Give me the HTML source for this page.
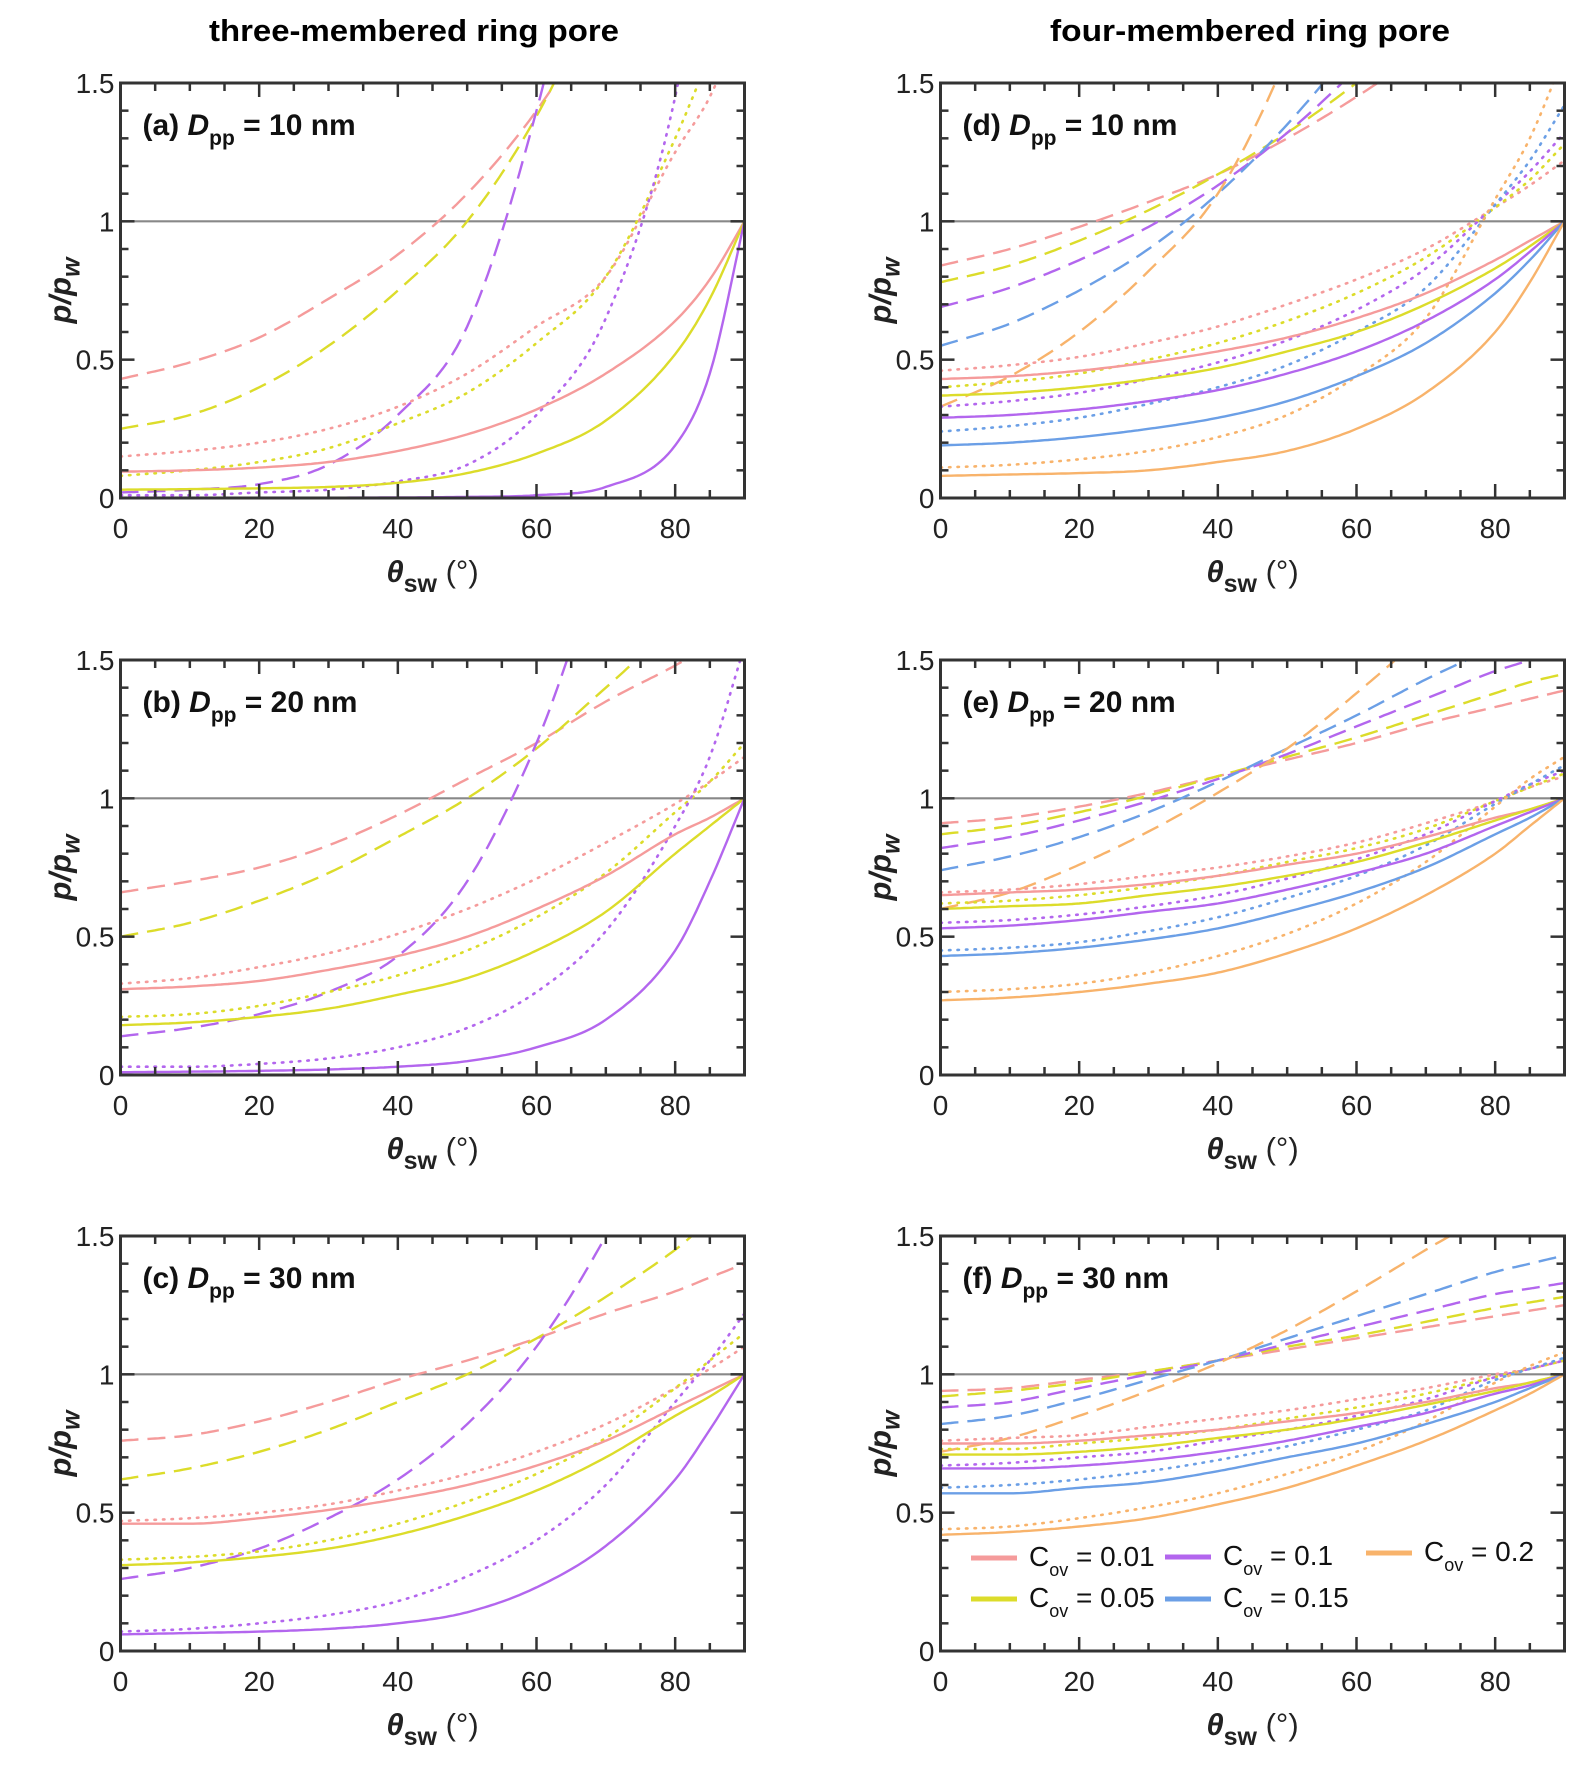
<!DOCTYPE html>
<html><head><meta charset="utf-8">
<style>
html,body{margin:0;padding:0;background:#fff;}
svg{display:block;font-family:"Liberation Sans",Arial,sans-serif;}
</style></head>
<body>
<svg id="fig" width="1587" height="1767" viewBox="0 0 1587 1767" xmlns="http://www.w3.org/2000/svg">
<text x="414" y="41" text-anchor="middle" font-size="31" font-weight="bold" textLength="410" lengthAdjust="spacingAndGlyphs">three-membered ring pore</text>
<text x="1250" y="41" text-anchor="middle" font-size="31" font-weight="bold" textLength="400" lengthAdjust="spacingAndGlyphs">four-membered ring pore</text>
<g id="panels"></g>
</svg>
<script>
const thetas = [0,10,20,30,40,50,60,70,80,85,90];
const xTicks = [0,20,40,60,80];
const yTicks = [0,0.5,1,1.5];
const yTickLabels = ["0","0.5","1","1.5"];
const panelLetters = ["a","b","c","d","e","f"];
const panelDpp = ["10","20","30","10","20","30"];

// Panel (a)
const a_solid = [[0.095,0.10,0.11,0.13,0.17,0.23,0.32,0.45,0.64,0.79,1],[0.03,0.032,0.035,0.04,0.055,0.09,0.16,0.28,0.52,0.72,1],[0,0,0,0.001,0.002,0.004,0.01,0.04,0.19,0.45,1]];
const a_dash = [[0.43,0.49,0.58,0.72,0.88,1.1,1.4,1.8,2.3,2.6,3],[0.25,0.3,0.4,0.55,0.75,1.0,1.38,1.9,2.5,2.8,3],[0.02,0.03,0.05,0.12,0.3,0.62,1.4,2.5,4,4,4]];
const a_dot = [[0.15,0.17,0.2,0.25,0.33,0.45,0.62,0.8,1.25,1.45,1.75],[0.08,0.1,0.13,0.18,0.27,0.38,0.56,0.8,1.3,1.6,1.9],[0.01,0.01,0.02,0.03,0.06,0.12,0.3,0.65,1.45,2.2,3]];
// Panel (b)
const b_solid = [[0.31,0.32,0.34,0.38,0.43,0.5,0.6,0.72,0.87,0.93,1],[0.18,0.19,0.21,0.24,0.29,0.35,0.45,0.59,0.8,0.9,1],[0.01,0.012,0.015,0.02,0.03,0.05,0.1,0.2,0.45,0.7,1]];
const b_dash = [[0.66,0.7,0.75,0.83,0.94,1.07,1.2,1.35,1.48,1.55,1.6],[0.5,0.55,0.63,0.73,0.86,1.0,1.18,1.4,1.62,1.7,1.8],[0.14,0.17,0.22,0.3,0.43,0.7,1.2,1.9,2.5,2.8,3]];
const b_dot = [[0.33,0.35,0.39,0.44,0.51,0.6,0.71,0.84,0.98,1.06,1.15],[0.21,0.22,0.25,0.3,0.36,0.45,0.57,0.73,0.95,1.06,1.2],[0.03,0.03,0.04,0.06,0.1,0.17,0.3,0.52,0.9,1.15,1.55]];
// Panel (c)
const c_solid = [[0.46,0.46,0.48,0.51,0.55,0.6,0.67,0.76,0.88,0.94,1],[0.31,0.32,0.34,0.37,0.42,0.49,0.58,0.7,0.85,0.92,1],[0.06,0.065,0.07,0.08,0.1,0.14,0.23,0.38,0.62,0.8,1]];
const c_dash = [[0.76,0.78,0.83,0.9,0.98,1.05,1.13,1.22,1.3,1.35,1.4],[0.62,0.66,0.72,0.8,0.9,1.0,1.13,1.28,1.45,1.55,1.6],[0.26,0.3,0.37,0.48,0.62,0.82,1.1,1.5,2,2.3,2.6]];
const c_dot = [[0.47,0.48,0.5,0.53,0.58,0.64,0.72,0.82,0.95,1.02,1.1],[0.33,0.34,0.36,0.4,0.46,0.54,0.64,0.77,0.95,1.05,1.15],[0.07,0.08,0.1,0.13,0.18,0.27,0.4,0.6,0.9,1.05,1.22]];
// Panel (d)
const d_solid = [[0.43,0.44,0.46,0.49,0.53,0.58,0.65,0.74,0.86,0.93,1],[0.37,0.38,0.4,0.43,0.47,0.53,0.6,0.7,0.83,0.91,1],[0.29,0.3,0.32,0.35,0.39,0.45,0.53,0.64,0.79,0.89,1],[0.19,0.2,0.22,0.25,0.29,0.35,0.44,0.56,0.74,0.86,1],[0.08,0.085,0.09,0.1,0.13,0.17,0.25,0.38,0.6,0.78,1]];
const d_dash = [[0.84,0.9,0.98,1.07,1.17,1.3,1.45,1.62,1.8,1.9,2],[0.78,0.84,0.93,1.04,1.17,1.32,1.5,1.7,1.9,2,2.1],[0.69,0.76,0.86,0.98,1.13,1.32,1.55,1.8,2,2.1,2.2],[0.55,0.63,0.75,0.9,1.1,1.35,1.65,2,2.3,2.4,2.5],[0.33,0.44,0.6,0.82,1.1,1.6,2.3,3,3.5,3.7,4]];
const d_dot = [[0.46,0.48,0.51,0.56,0.62,0.7,0.79,0.9,1.05,1.13,1.22],[0.4,0.42,0.45,0.5,0.56,0.64,0.74,0.87,1.05,1.15,1.28],[0.33,0.35,0.38,0.43,0.49,0.57,0.68,0.83,1.06,1.18,1.32],[0.24,0.26,0.29,0.34,0.4,0.48,0.6,0.76,1.06,1.22,1.42],[0.11,0.12,0.14,0.17,0.22,0.3,0.44,0.65,1.08,1.3,1.6]];
// Panel (e)
const e_solid = [[0.65,0.66,0.67,0.69,0.72,0.76,0.8,0.86,0.93,0.96,1],[0.6,0.61,0.62,0.65,0.68,0.72,0.77,0.84,0.92,0.96,1],[0.53,0.54,0.56,0.59,0.62,0.67,0.73,0.8,0.9,0.95,1],[0.43,0.44,0.46,0.49,0.53,0.59,0.66,0.75,0.87,0.93,1],[0.27,0.28,0.3,0.33,0.37,0.44,0.53,0.65,0.8,0.9,1]];
const e_dash = [[0.91,0.93,0.97,1.02,1.08,1.14,1.2,1.27,1.33,1.36,1.39],[0.87,0.9,0.95,1.01,1.08,1.15,1.22,1.3,1.38,1.42,1.45],[0.82,0.86,0.92,0.99,1.07,1.16,1.26,1.36,1.46,1.5,1.55],[0.74,0.79,0.86,0.95,1.06,1.18,1.3,1.43,1.55,1.62,1.7],[0.6,0.66,0.76,0.88,1.02,1.18,1.38,1.6,1.85,2,2.1]];
const e_dot = [[0.66,0.67,0.69,0.72,0.75,0.79,0.84,0.91,0.99,1.04,1.08],[0.62,0.63,0.65,0.68,0.72,0.77,0.82,0.89,0.99,1.04,1.09],[0.55,0.56,0.58,0.61,0.65,0.71,0.78,0.87,0.99,1.05,1.1],[0.45,0.46,0.48,0.52,0.57,0.64,0.72,0.83,0.98,1.05,1.12],[0.3,0.31,0.33,0.37,0.43,0.51,0.62,0.77,0.97,1.07,1.15]];
// Panel (f)
const f_solid = [[0.75,0.75,0.76,0.78,0.8,0.83,0.86,0.9,0.95,0.97,1],[0.71,0.71,0.72,0.74,0.77,0.8,0.84,0.89,0.94,0.97,1],[0.66,0.66,0.67,0.69,0.72,0.76,0.81,0.86,0.93,0.96,1],[0.57,0.57,0.59,0.61,0.65,0.7,0.75,0.82,0.9,0.95,1],[0.42,0.43,0.45,0.48,0.53,0.59,0.67,0.76,0.87,0.93,1]];
const f_dash = [[0.94,0.95,0.98,1.01,1.05,1.09,1.13,1.17,1.21,1.23,1.25],[0.92,0.94,0.97,1.01,1.05,1.1,1.14,1.19,1.24,1.26,1.28],[0.88,0.9,0.95,1.0,1.05,1.11,1.17,1.23,1.29,1.31,1.33],[0.82,0.85,0.91,0.98,1.05,1.13,1.21,1.29,1.37,1.4,1.43],[0.72,0.77,0.85,0.94,1.04,1.16,1.3,1.45,1.6,1.7,1.8]];
const f_dot = [[0.76,0.77,0.78,0.81,0.84,0.87,0.91,0.95,1.0,1.02,1.05],[0.73,0.73,0.75,0.77,0.8,0.84,0.88,0.93,0.99,1.02,1.05],[0.67,0.68,0.7,0.72,0.76,0.8,0.85,0.91,0.99,1.02,1.05],[0.59,0.6,0.62,0.65,0.69,0.74,0.8,0.87,0.98,1.02,1.06],[0.44,0.45,0.48,0.52,0.57,0.64,0.72,0.83,0.97,1.03,1.08]];

const legendLabels = ["0.01","0.05","0.1","0.15","0.2"];
const colors = ["#f59b9b","#dcdc2a","#b366ee","#6b9fe6","#f8b36b"];

const panelsData = [[a_solid,a_dash,a_dot],[b_solid,b_dash,b_dot],[c_solid,c_dash,c_dot],[d_solid,d_dash,d_dot],[e_solid,e_dash,e_dot],[f_solid,f_dash,f_dot]];
const colX = [120.5, 940.5], W = 624;
const rowY = [83, 660, 1236], H = 415;
const NS = "http://www.w3.org/2000/svg";
const root = document.getElementById('panels');
function mk(tag, attrs, parent){const e=document.createElementNS(NS,tag);for(const k in attrs)e.setAttribute(k,attrs[k]);(parent||root).appendChild(e);return e;}

function monotone(xs, ys){
  const n=xs.length, d=[], m=new Array(n);
  for(let i=0;i<n-1;i++) d.push((ys[i+1]-ys[i])/(xs[i+1]-xs[i]));
  m[0]=d[0]; m[n-1]=d[n-2];
  for(let i=1;i<n-1;i++){ m[i]= (d[i-1]*d[i]<=0)?0:(d[i-1]+d[i])/2; 
    const a=m[i]/d[i-1], b=m[i]/d[i]; const s=a*a+b*b; if(s>9){const t=3/Math.sqrt(s); m[i]=t*m[i];} }
  return function(x){
    let i=0; while(i<n-2 && x>xs[i+1]) i++;
    const h=xs[i+1]-xs[i], t=(x-xs[i])/h, t2=t*t, t3=t2*t;
    return (2*t3-3*t2+1)*ys[i]+(t3-2*t2+t)*h*m[i]+(-2*t3+3*t2)*ys[i+1]+(t3-t2)*h*m[i+1];
  };
}

panelsData.forEach((pd, p)=>{
  const col = p<3?0:1, row = p%3;
  const x0 = colX[col], y0 = rowY[row];
  const sx = v => x0 + v/90*W;
  const sy = v => y0 + H - v/1.5*H;
  const g = mk('g',{});
  
  
  const cid='clip'+p;
  const cp = mk('clipPath',{id:cid},g); mk('rect',{x:x0,y:y0,width:W,height:H},cp);
  const ref = mk('line',{x1:x0,x2:x0+W,y1:sy(1),y2:sy(1),stroke:'#888',"stroke-width":2.2},g);
  
  
  const styles = [{name:'solid',dash:null},{name:'dashed',dash:'18 9'},{name:'dotted',dash:'1.5 7'}];
  const ncol = pd[0].length;
  const cg = mk('g',{"clip-path":`url(#${cid})`},g);
  [1,2,0].forEach(si=>{
    for(let c=0;c<ncol;c++){
      const ys = pd[si][c];
      const f = monotone(thetas, ys);
      let d='';
      for(let t=0;t<=90;t+=0.5){ let v=f(t); if(v>3) v=3; d += (t===0?'M':'L')+sx(t).toFixed(1)+','+sy(v).toFixed(1); }
      const attrs={d:d,fill:'none',stroke:colors[c],"stroke-width":2.4};
      if(styles[si].dash){attrs["stroke-dasharray"]=styles[si].dash;}
      if(si===2){attrs["stroke-linecap"]='round';attrs["stroke-width"]=2.6;}
      const path = mk('path',attrs,cg);
      
      
    }
  });
  const tg = mk('g',{stroke:'#333',"stroke-width":2.5},g);
  for(let t=0;t<=90;t+=5){
    const len = (t%20===0)?14:8;
    mk('line',{x1:sx(t),x2:sx(t),y1:y0+H,y2:y0+H-len},tg);
    mk('line',{x1:sx(t),x2:sx(t),y1:y0,y2:y0+len},tg);
  }
  for(let k=0;k<=15;k++){
    const v=k/10, len=(k%5===0)?14:8;
    mk('line',{x1:x0,x2:x0+len,y1:sy(v),y2:sy(v)},tg);
    mk('line',{x1:x0+W,x2:x0+W-len,y1:sy(v),y2:sy(v)},tg);
  }
  const frame = mk('rect',{x:x0,y:y0,width:W,height:H,fill:'none',stroke:'#333',"stroke-width":3},g);
  
  
  xTicks.forEach(t=>{
    const tx = mk('text',{x:sx(t),y:y0+H+40,"text-anchor":'middle',"font-size":28,fill:'#222'},g);
    tx.textContent = String(t);
    
    
  });
  yTicks.forEach((v,i)=>{
    const tx = mk('text',{x:x0-6,y:sy(v)+10,"text-anchor":'end',"font-size":28,fill:'#222'},g);
    tx.textContent = yTickLabels[i];
    
    
  });
  const xl = mk('text',{x:x0+W/2,y:y0+H+84,"text-anchor":'middle',"font-size":31,"font-weight":'bold',fill:'#222'},g);
  xl.innerHTML = '<tspan font-style="italic">θ</tspan><tspan font-size="25" dy="10">sw</tspan><tspan dy="-10" font-weight="normal"> (°)</tspan>';
  
  
  const yl = mk('text',{x:0,y:0,"text-anchor":'middle',"font-size":31,"font-weight":'bold',"font-style":'italic',fill:'#222',transform:`translate(${x0-50},${y0+H/2}) rotate(-90)`},g);
  yl.innerHTML = 'p/p<tspan font-size="25" dy="9">w</tspan>';
  
  
  const pl = mk('text',{x:x0+22,y:y0,"font-size":30,"font-weight":'bold',fill:'#111'},g);
  pl.setAttribute('y', y0+52);
  pl.innerHTML = '('+panelLetters[p]+') <tspan font-style="italic">D</tspan><tspan font-size="21" dy="10">pp</tspan><tspan dy="-10"> = '+panelDpp[p]+' nm</tspan>';
  
  
});

const legPos = [[971,1558],[971,1599],[1165,1557],[1165,1599],[1366,1553]];
const lg = mk('g',{});


legendLabels.forEach((lab,i)=>{
  const [lx,ly]=legPos[i];
  const ln = mk('line',{x1:lx,x2:lx+46,y1:ly,y2:ly,stroke:colors[i],"stroke-width":5},lg);
  
  
  const tx = mk('text',{x:lx+58,y:ly+8,"font-size":28,fill:'#111'},lg);
  tx.innerHTML = 'C<tspan font-size="18" dy="10">ov</tspan><tspan dy="-10"> = '+lab+'</tspan>';
  
  
});
</script>
</body></html>
